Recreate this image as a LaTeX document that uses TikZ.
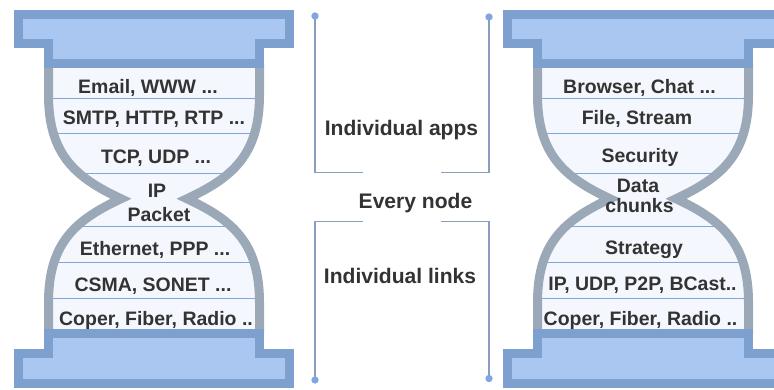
\documentclass[tikz,border=0pt]{standalone}
\usepackage{fontspec}
\setmainfont{Liberation Sans}

\definecolor{capfill}{HTML}{A9C7F0}
\definecolor{capline}{HTML}{7EA0CF}
\definecolor{glassline}{HTML}{9BA8B7}
\definecolor{glassfill}{HTML}{F4F8FE}
\definecolor{rowline}{HTML}{7EA6E0}
\definecolor{txt}{HTML}{333333}
\definecolor{brace}{HTML}{8A9FC0}

\tikzstyle{layertxt} = [font=\bfseries\fontsize{14.6}{17}\selectfont, text=txt, anchor=base, inner sep=0pt]
\tikzstyle{scopetxt} = [font=\bfseries\fontsize{15.8}{19}\selectfont, text=txt, anchor=base, inner sep=0pt]
\tikzstyle{capbox} = [fill=capfill, draw=capline, line width=6.75pt, line join=miter]
\tikzstyle{bulb} = [draw=glassline, line width=6.75pt, line join=miter]
\tikzstyle{rowrule} = [draw=rowline, line width=0.75pt]
\tikzstyle{bracket} = [draw=brace, line width=1.1pt]
\tikzstyle{enddot} = [circle, minimum width=5.5pt, fill=rowline, inner sep=0pt]

% one hourglass, shifted by #1 pixels
\newcommand{\drawglass}[1]{%
\begin{scope}[shift={(#1,0)}]
    \fill[glassfill] (48.5,63.5) -- (48.5,95)
        .. controls (48.5,155) and (76,177.75) .. (121,198.75)
        .. controls (76,219.75) and (48.5,242.5) .. (48.5,302.5) -- (48.5,333.5)
        -- (259.5,333.5) -- (259.5,302.5)
        .. controls (259.5,242.5) and (232,219.75) .. (187,198.75)
        .. controls (232,177.75) and (259.5,155) .. (259.5,95) -- (259.5,63.5) -- cycle;
    \begin{scope}
        \clip (48.5,63.5) -- (48.5,95)
            .. controls (48.5,155) and (76,177.75) .. (121,198.75)
            .. controls (76,219.75) and (48.5,242.5) .. (48.5,302.5) -- (48.5,333.5)
            -- (259.5,333.5) -- (259.5,302.5)
            .. controls (259.5,242.5) and (232,219.75) .. (187,198.75)
            .. controls (232,177.75) and (259.5,155) .. (259.5,95) -- (259.5,63.5) -- cycle;
        \foreach \ry in {98,133,173,226,262,298.5}
            \draw[rowrule] (40,\ry) -- (270,\ry);
    \end{scope}
    \draw[bulb] (48.5,63.5) -- (48.5,95)
        .. controls (48.5,155) and (76,177.75) .. (121,198.75)
        .. controls (76,219.75) and (48.5,242.5) .. (48.5,302.5) -- (48.5,333.5);
    \draw[bulb] (259.5,63.5) -- (259.5,95)
        .. controls (259.5,155) and (232,177.75) .. (187,198.75)
        .. controls (232,219.75) and (259.5,242.5) .. (259.5,302.5) -- (259.5,333.5);
    \draw[capbox] (18.5,14) -- (289.5,14) -- (289.5,43.5) -- (259.5,43.5)
        -- (259.5,63.5) -- (48.5,63.5) -- (48.5,43.5) -- (18.5,43.5) -- cycle;
    \draw[capbox] (18.5,383.5) -- (289.5,383.5) -- (289.5,353.5) -- (259.5,353.5)
        -- (259.5,333.5) -- (48.5,333.5) -- (48.5,353.5) -- (18.5,353.5) -- cycle;
\end{scope}}

\begin{document}
\begin{tikzpicture}[x=0.75pt, y=-0.75pt]
\useasboundingbox (0,0) rectangle (774,389);

\drawglass{0}
\drawglass{489}

% left stack
\node[layertxt] (lemail) at (148,93) {Email, WWW ...};
\node[layertxt] (lsmtp) at (154,124) {SMTP, HTTP, RTP ...};
\node[layertxt] (ltcp) at (156,163) {TCP, UDP ...};
\node[layertxt] (lip) at (157,197) {IP};
\node[layertxt] (lpacket) at (159,221) {Packet};
\node[layertxt] (leth) at (155,255) {Ethernet, PPP ...};
\node[layertxt] (lcsma) at (153,291) {CSMA, SONET ...};
\node[layertxt] (lcoper) at (156,325) {Coper, Fiber, Radio ..};

% right stack
\node[layertxt] (rbrowser) at (639.5,93) {Browser, Chat ...};
\node[layertxt] (rfile) at (637,124) {File, Stream};
\node[layertxt] (rsec) at (640,162) {Security};
\node[layertxt] (rdata) at (638,192) {Data};
\node[layertxt] (rchunks) at (639.5,212) {chunks};
\node[layertxt] (rstrat) at (644,254) {Strategy};
\node[layertxt] (rip) at (642.5,290) {IP, UDP, P2P, BCast..};
\node[layertxt] (rcoper) at (640.5,325) {Coper, Fiber, Radio ..};

% middle
\node[scopetxt] (apps) at (401.5,135) {Individual apps};
\node[scopetxt] (every) at (415.5,208.5) {Every node};
\node[scopetxt] (links) at (400,283) {Individual links};

\coordinate (appsL) at (315,16);
\coordinate (appsR) at (489,17);
\coordinate (appsLend) at (363,172.5);
\coordinate (appsRend) at (441,172.5);
\coordinate (linksL) at (315,380);
\coordinate (linksR) at (489,378.5);
\coordinate (linksLend) at (363,221.5);
\coordinate (linksRend) at (441,221.5);

\draw[bracket] (appsL) |- (appsLend);
\draw[bracket] (appsR) |- (appsRend);
\draw[bracket] (linksL) |- (linksLend);
\draw[bracket] (linksR) |- (linksRend);
\foreach \p in {appsL,appsR,linksL,linksR}
    \node[enddot] at (\p) {};
\end{tikzpicture}
\end{document}
